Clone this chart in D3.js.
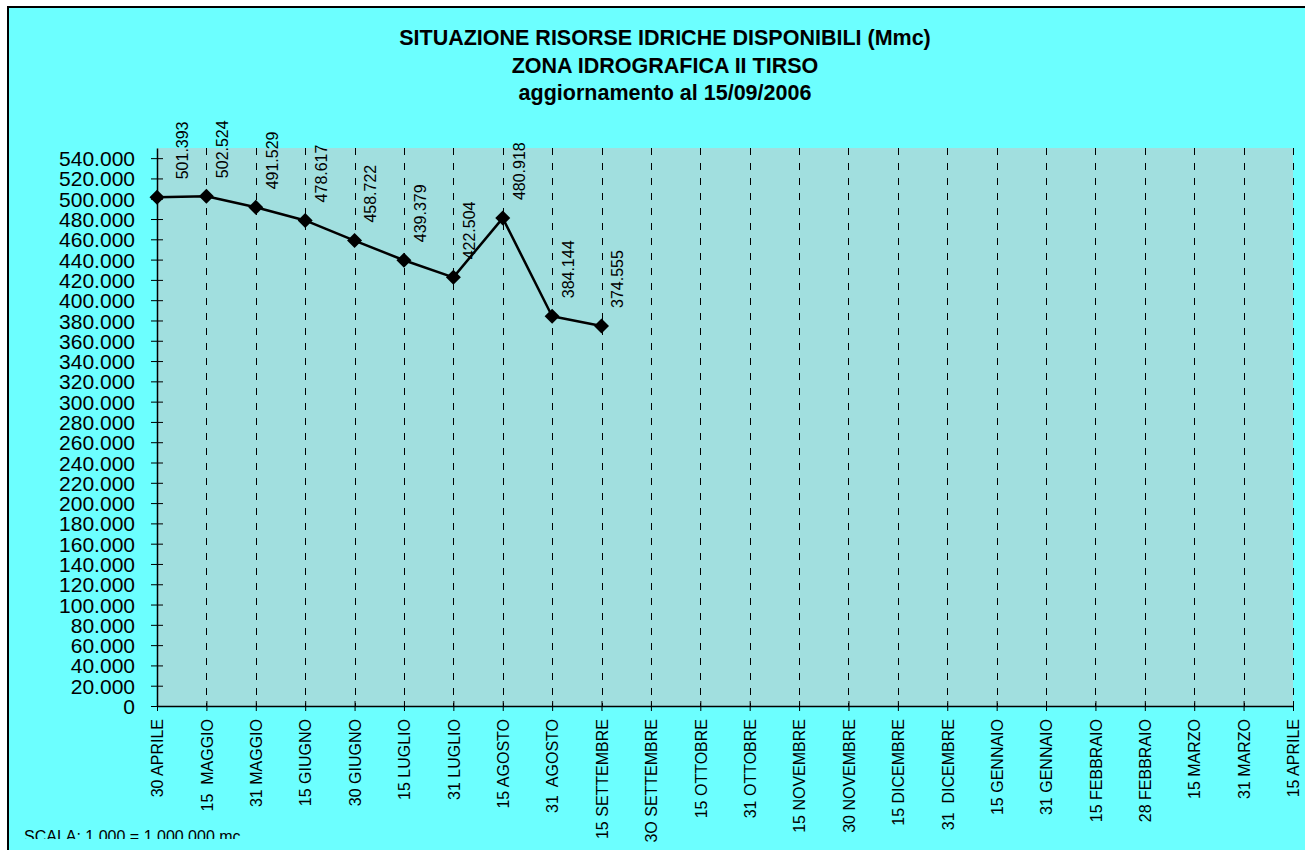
<!DOCTYPE html>
<html>
<head>
<meta charset="utf-8">
<script src="https://cdn.jsdelivr.net/npm/d3@7"></script>
<style>
    body { margin: 0; background: #ffffff; }
    svg { display: block; }
    text { font-family: Arial, "Liberation Sans", sans-serif; fill: #000; }
</style>
</head>
<body>
<div id="chart"></div>
<script>
// Chart data (values in thousands of mc, shown as Mmc with "." grouping)
var titleLines = [
    'SITUAZIONE RISORSE IDRICHE DISPONIBILI (Mmc)',
    'ZONA IDROGRAFICA II TIRSO',
    'aggiornamento al 15/09/2006'
];

var categories = [
    '30 APRILE', '15  MAGGIO', '31 MAGGIO', '15 GIUGNO', '30 GIUGNO',
    '15 LUGLIO', '31 LUGLIO', '15 AGOSTO', '31  AGOSTO', '15 SETTEMBRE',
    '3O SETTEMBRE', '15 OTTOBRE', '31 OTTOBRE', '15 NOVEMBRE', '30 NOVEMBRE',
    '15 DICEMBRE', '31  DICEMBRE', '15 GENNAIO', '31 GENNAIO', '15 FEBBRAIO',
    '28 FEBBRAIO', '15 MARZO', '31 MARZO', '15 APRILE'
];

var volumes = [501393, 502524, 491529, 478617, 458722, 439379, 422504, 480918, 384144, 374555];

var yTicks = d3.range(0, 540001, 20000);
var yMax = 550000;

var scaleNote = 'SCALA: 1.000 = 1.000.000 mc';

// Line chart in the old reusable style
var ReservoirChart = function() {
    var width = 1305,
        height = 850,
        frame = { left: 8, top: 7 },
        margin = { left: 157, top: 148, right: 1293, bottom: 706 };

    var chart = function(selection) {
        var itFormat = d3.formatLocale({
            decimal: ',',
            thousands: '.',
            grouping: [3],
            currency: ['', '']
        }).format(',.0f');

        var x = d3.scalePoint()
            .domain(categories)
            .range([margin.left, margin.right]);

        var y = d3.scaleLinear()
            .domain([0, yMax])
            .range([margin.bottom, margin.top]);

        selection.each(function() {
            var svg = d3.select(this).append('svg')
                .attr('width', width)
                .attr('height', height);

            // chart area
            svg.append('rect')
                .attr('x', frame.left)
                .attr('y', frame.top)
                .attr('width', width + 40)
                .attr('height', height + 40)
                .attr('fill', '#6cffff')
                .attr('stroke', '#000')
                .attr('stroke-width', 2);

            // plot area
            svg.append('rect')
                .attr('x', margin.left)
                .attr('y', margin.top)
                .attr('width', margin.right - margin.left)
                .attr('height', margin.bottom - margin.top)
                .attr('fill', '#a1dfdf');

            // title
            svg.append('g').selectAll('text')
                .data(titleLines)
                .enter()
                .append('text')
                .attr('x', 665)
                .attr('y', function(d, i) { return 45 + i * 27.5; })
                .attr('text-anchor', 'middle')
                .style('font-size', '21.5px')
                .style('font-weight', 'bold')
                .text(function(d) { return d; });

            // dashed category gridlines
            svg.append('g').selectAll('line')
                .data(categories.slice(1))
                .enter()
                .append('line')
                .attr('x1', function(d) { return Math.round(x(d)) + 0.5; })
                .attr('x2', function(d) { return Math.round(x(d)) + 0.5; })
                .attr('y1', margin.top)
                .attr('y2', margin.bottom)
                .attr('stroke', '#000')
                .attr('stroke-width', 1)
                .attr('stroke-dasharray', '7,8');

            // y axis
            var yAxis = svg.append('g')
                .attr('transform', 'translate(' + margin.left + ',0)')
                .call(d3.axisLeft(y)
                    .tickValues(yTicks)
                    .tickSize(6)
                    .tickSizeOuter(0)
                    .tickPadding(16)
                    .tickFormat(itFormat));
            yAxis.selectAll('.tick line').attr('x1', 6);
            yAxis.selectAll('text').style('font-size', '21px').attr('dy', '0.36em');
            yAxis.select('.domain').attr('stroke-width', 1.5);

            // x axis
            var xAxis = svg.append('g')
                .attr('transform', 'translate(0,' + margin.bottom + ')')
                .call(d3.axisBottom(x)
                    .tickSize(5)
                    .tickSizeOuter(0));
            xAxis.selectAll('.tick line').attr('y1', -5);
            xAxis.selectAll('text')
                .attr('transform', 'rotate(-90)')
                .attr('x', -13)
                .attr('y', 0)
                .attr('dy', '0.36em')
                .style('text-anchor', 'end')
                .style('font-size', '16px')
                .style('white-space', 'pre')
                .text(function(d) { return d; });
            xAxis.select('.domain').attr('stroke-width', 1.5);

            // series line
            var points = volumes.map(function(v, i) { return { cat: categories[i], value: v }; });

            var line = d3.line()
                .x(function(d) { return x(d.cat); })
                .y(function(d) { return y(d.value); });

            svg.append('path')
                .datum(points)
                .attr('d', line)
                .attr('fill', 'none')
                .attr('stroke', '#000')
                .attr('stroke-width', 2.5)
                .attr('stroke-linejoin', 'round');

            // diamond markers
            svg.append('g').selectAll('path')
                .data(points)
                .enter()
                .append('path')
                .attr('transform', function(d) {
                    return 'translate(' + x(d.cat) + ',' + y(d.value) + ')';
                })
                .attr('d', 'M0,-7.5L7.5,0L0,7.5L-7.5,0Z')
                .attr('fill', '#000');

            // value labels, rotated
            svg.append('g').selectAll('text')
                .data(points)
                .enter()
                .append('text')
                .attr('transform', function(d, i) {
                    var dx = i === 0 ? 25 : 16;
                    return 'translate(' + (x(d.cat) + dx) + ',' + (y(d.value) - 18) + ') rotate(-90)';
                })
                .attr('dy', '0.36em')
                .style('font-size', '16px')
                .text(function(d) { return itFormat(d.value); });

            // scale note, cut off at the bottom like the original
            svg.append('clipPath')
                .attr('id', 'noteClip')
                .append('rect')
                .attr('x', 0)
                .attr('y', 0)
                .attr('width', width)
                .attr('height', 839);

            svg.append('text')
                .attr('x', 24)
                .attr('y', 842)
                .attr('clip-path', 'url(#noteClip)')
                .style('font-size', '16px')
                .text(scaleNote);
        });
    };

    return chart;
};

d3.select('#chart').call(ReservoirChart());
</script>
</body>
</html>
